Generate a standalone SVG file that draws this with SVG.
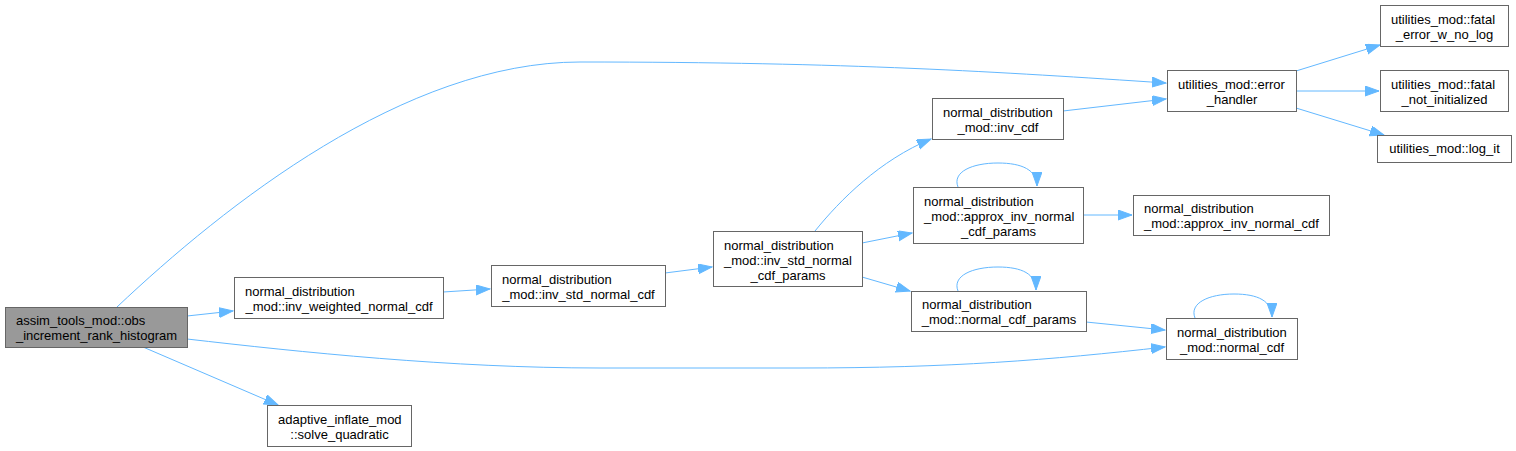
<svg xmlns="http://www.w3.org/2000/svg" width="1516" height="451" viewBox="0 0 1516 451">
<style>
.n rect{fill:#ffffff;stroke:#666666;stroke-width:1}
.n.root rect{fill:#999999}
.n text{font-family:"Liberation Sans",Arial,sans-serif;font-size:13px;fill:#000000}
.n text.c{text-anchor:middle}
.e path{fill:none;stroke:#63b8ff;stroke-width:1;marker-end:url(#ah)}
</style>
<defs>
<marker id="ah" markerUnits="userSpaceOnUse" markerWidth="15" markerHeight="11" refX="14" refY="5" orient="auto">
<path d="M0,0 L14,5 L0,10 Z" fill="#63b8ff" stroke="#63b8ff" stroke-width="1"/>
</marker>
</defs>
<rect x="0" y="0" width="1516" height="451" fill="#ffffff"/>
<g id="edges" class="e">
<path d="M117,307 C225,205 405,62 580,62 C850,62 1000,72 1166,83"/>
<path d="M187,316 L233,311"/>
<path d="M187,339 C300,352 450,368 600,368 L800,368 C950,368 1050,360 1165,347"/>
<path d="M143,347 L278,405"/>
<path d="M443,292 L490,289"/>
<path d="M665,273 L712,267"/>
<path d="M815,231 C840,200 880,160 931,139"/>
<path d="M862,243 L912,233"/>
<path d="M862,277 L910,291"/>
<path d="M1063,111 L1166,99"/>
<path d="M1083,215 L1132,215"/>
<path d="M1086,322 L1165,330"/>
<path d="M1296,71 L1380,45"/>
<path d="M1296,91 L1379,91"/>
<path d="M1296,108 L1384,135"/>
<path d="M958,187 C952,172 972,163 998,163 C1022,163 1037,170 1037,186"/>
<path d="M958,291 C952,276 972,267 998,267 C1022,267 1036,274 1036,290"/>
<path d="M1195,318 C1189,303 1209,294 1234,294 C1258,294 1272,301 1272,317"/>
</g>
<g id="A" class="n root"><rect x="5.5" y="307.5" width="182" height="40"/><text x="16" y="325">assim_tools_mod::obs</text><text class="c" x="96.5" y="340">_increment_rank_histogram</text></g>
<g id="B" class="n"><rect x="234.5" y="277.5" width="209" height="41"/><text x="245" y="296">normal_distribution</text><text class="c" x="339" y="311">_mod::inv_weighted_normal_cdf</text></g>
<g id="C" class="n"><rect x="267.5" y="405.5" width="144" height="41"/><text x="278" y="424">adaptive_inflate_mod</text><text class="c" x="339.5" y="439">::solve_quadratic</text></g>
<g id="D" class="n"><rect x="491.5" y="265.5" width="174" height="41"/><text x="502" y="284">normal_distribution</text><text class="c" x="578.5" y="299">_mod::inv_std_normal_cdf</text></g>
<g id="E" class="n"><rect x="713.5" y="231.5" width="149" height="55"/><text x="724" y="250">normal_distribution</text><text x="724" y="265">_mod::inv_std_normal</text><text class="c" x="788" y="280">_cdf_params</text></g>
<g id="F" class="n"><rect x="932.5" y="98.5" width="131" height="41"/><text x="943" y="117">normal_distribution</text><text class="c" x="998" y="132">_mod::inv_cdf</text></g>
<g id="G" class="n"><rect x="913.5" y="187.5" width="170" height="56"/><text x="924" y="206">normal_distribution</text><text x="924" y="221">_mod::approx_inv_normal</text><text class="c" x="998.5" y="236">_cdf_params</text></g>
<g id="H" class="n"><rect x="911.5" y="291.5" width="175" height="40"/><text x="922" y="309">normal_distribution</text><text class="c" x="999" y="324">_mod::normal_cdf_params</text></g>
<g id="I" class="n"><rect x="1166.5" y="318.5" width="131" height="41"/><text x="1177" y="337">normal_distribution</text><text class="c" x="1232" y="352">_mod::normal_cdf</text></g>
<g id="J" class="n"><rect x="1133.5" y="195.5" width="196" height="40"/><text x="1144" y="213">normal_distribution</text><text class="c" x="1231.5" y="228">_mod::approx_inv_normal_cdf</text></g>
<g id="K" class="n"><rect x="1167.5" y="70.5" width="129" height="41"/><text x="1178" y="89">utilities_mod::error</text><text class="c" x="1232" y="104">_handler</text></g>
<g id="L" class="n"><rect x="1380.5" y="5.5" width="128" height="41"/><text x="1391" y="24">utilities_mod::fatal</text><text class="c" x="1444.5" y="39">_error_w_no_log</text></g>
<g id="M" class="n"><rect x="1380.5" y="70.5" width="128" height="41"/><text x="1391" y="89">utilities_mod::fatal</text><text class="c" x="1444.5" y="104">_not_initialized</text></g>
<g id="N" class="n"><rect x="1377.5" y="135.5" width="134" height="27"/><text class="c" x="1444.5" y="153">utilities_mod::log_it</text></g>
</svg>
